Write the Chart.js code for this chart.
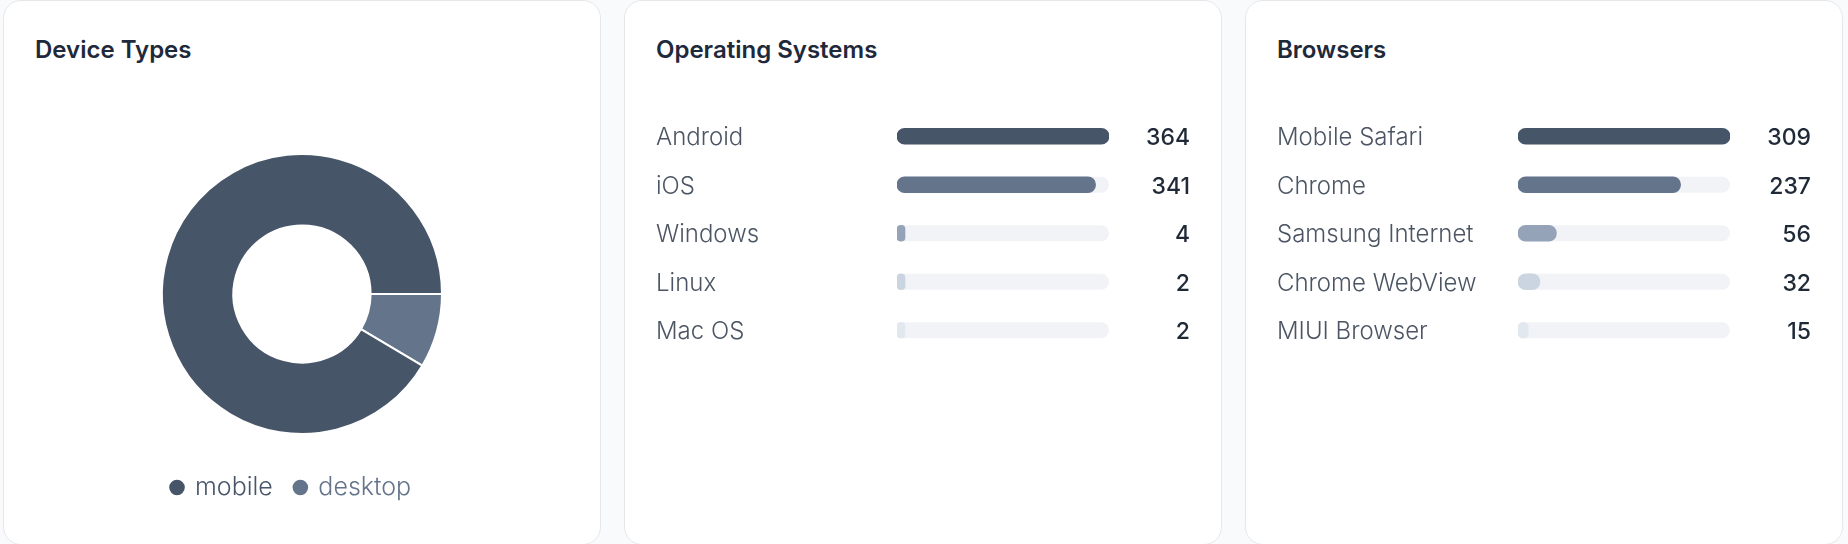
<!DOCTYPE html>
<html>
<head>
<meta charset="utf-8">
<title>Audience breakdown</title>
<script src="https://cdn.jsdelivr.net/npm/chart.js@4.4.1/dist/chart.umd.min.js"></script>
<style>
  html, body { margin: 0; padding: 0; }
  body {
    width: 1848px; height: 544px; overflow: hidden; position: relative;
    background: #f9fafb; font-family: Inter, "Noto Sans", sans-serif;
  }
  .card {
    position: absolute; top: 0; width: 598px; height: 545px; box-sizing: border-box;
    background: #fff; border: 1px solid #e5e7eb; border-radius: 18px;
  }
  .card h2 {
    position: absolute; left: 31px; top: 35px; margin: 0;
    font-size: 24px; line-height: 28px; font-weight: 600; color: #1e293b;
  }
  .chart-box { position: absolute; left: 31px; width: 534px; }
  .donut-box { top: 134px; height: 375px; }
  .bars-box { top: 110.75px; height: 242.5px; }
</style>
</head>
<body>
  <div class="card" style="left:3px">
    <h2>Device Types</h2>
    <div class="chart-box donut-box"><canvas id="deviceChart"></canvas></div>
  </div>
  <div class="card" style="left:624px">
    <h2>Operating Systems</h2>
    <div class="chart-box bars-box"><canvas id="osChart"></canvas></div>
  </div>
  <div class="card" style="left:1245px">
    <h2>Browsers</h2>
    <div class="chart-box bars-box"><canvas id="browserChart"></canvas></div>
  </div>

<script>
// --- Data ---
const deviceLabels = ['mobile', 'desktop'];
const deviceValues = [652, 61];
const deviceColors = ['#475569', '#64748b'];

const osLabels = ['Android', 'iOS', 'Windows', 'Linux', 'Mac OS'];
const osValues = [364, 341, 4, 2, 2];

const browserLabels = ['Mobile Safari', 'Chrome', 'Samsung Internet', 'Chrome WebView', 'MIUI Browser'];
const browserValues = [309, 237, 56, 32, 15];

// one shade per row, darkest first
const rowColors = ['#475569', '#64748b', '#94a3b8', '#cbd5e1', '#e2e8f0'];
const trackColor = '#f1f3f6';

Chart.defaults.font.family = 'Inter, "Noto Sans", sans-serif';
Chart.defaults.animation = false;

// Draws the light rounded track behind every bar, full width of the chart area
const trackPlugin = {
  id: 'barTrack',
  beforeDatasetsDraw(chart) {
    const { ctx, chartArea } = chart;
    const meta = chart.getDatasetMeta(0);
    ctx.save();
    ctx.fillStyle = trackColor;
    meta.data.forEach((bar) => {
      const { y, height } = bar.getProps(['y', 'height'], true);
      ctx.beginPath();
      ctx.roundRect(chartArea.left, y - height / 2, chartArea.width, height, height / 2);
      ctx.fill();
    });
    ctx.restore();
  },
};

/**
 * Horizontal bar list: names on the left axis, counts on a right axis.
 */
function makeBarList(canvasId, labels, values) {
  return new Chart(document.getElementById(canvasId), {
    type: 'bar',
    data: {
      labels: labels,
      datasets: [{
        data: values,
        backgroundColor: rowColors,
        barThickness: 16,
        borderRadius: 8,
        borderSkipped: false,
        minBarLength: 8,
      }],
    },
    options: {
      indexAxis: 'y',
      responsive: true,
      maintainAspectRatio: false,
      plugins: {
        legend: { display: false },
        tooltip: { enabled: false },
      },
      scales: {
        x: { display: false, min: 0, max: Math.max(...values) },
        y: {
          position: 'left',
          grid: { display: false },
          border: { display: false },
          ticks: {
            crossAlign: 'far', padding: 0, labelOffset: 2,
            color: '#4b5563', font: { size: 24, weight: 300 },
          },
          afterFit(scale) { scale.width = 241; scale.paddingTop = 0; scale.paddingBottom = 0; },
        },
        yCount: {
          type: 'category',
          position: 'right',
          offset: true,
          labels: values.map(String),
          grid: { display: false },
          border: { display: false },
          ticks: {
            crossAlign: 'far', padding: 0, labelOffset: 2,
            color: '#1f2937', font: { size: 23, weight: 500 },
          },
          afterFit(scale) { scale.width = 81; scale.paddingTop = 0; scale.paddingBottom = 0; },
        },
      },
    },
    plugins: [trackPlugin],
  });
}

// Doughnut: drawn from 3 o'clock, desktop slice first so it sits just below the right side
new Chart(document.getElementById('deviceChart'), {
  type: 'doughnut',
  data: {
    labels: deviceLabels.slice().reverse(),
    datasets: [{
      data: deviceValues.slice().reverse(),
      backgroundColor: deviceColors.slice().reverse(),
      borderColor: '#ffffff',
      borderWidth: 2,
      radius: 140,
      cutout: '49%',
      rotation: 90,
    }],
  },
  options: {
    responsive: true,
    maintainAspectRatio: false,
    layout: { padding: { left: 114.5, right: 114.5 } },
    plugins: {
      tooltip: { enabled: false },
      legend: {
        position: 'bottom',
        align: 'start',
        reverse: true,
        labels: {
          usePointStyle: true,
          pointStyle: 'circle',
          boxWidth: 11,
          boxHeight: 11,
          padding: 22,
          font: { size: 25, weight: 300 },
          generateLabels(chart) {
            const items = Chart.overrides.doughnut.plugins.legend.labels.generateLabels(chart);
            items.forEach((item) => { item.fontColor = item.fillStyle; item.lineWidth = 0; });
            return items;
          },
        },
      },
    },
  },
});

makeBarList('osChart', osLabels, osValues);
makeBarList('browserChart', browserLabels, browserValues);
</script>
</body>
</html>
